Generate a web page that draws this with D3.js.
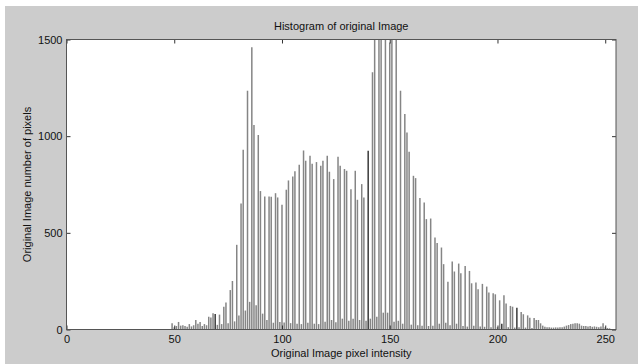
<!DOCTYPE html>
<html>
<head>
<meta charset="utf-8">
<script src="https://cdn.jsdelivr.net/npm/d3@7"></script>
<style>
  body { margin: 0; background: #fff; }
  svg { display: block; font-family: "Liberation Sans", Arial, sans-serif; }
</style>
</head>
<body>
<svg id="chart" width="638" height="364"></svg>
<script>
// pixel counts per intensity value 0..255
const counts = [
  0, 0, 0, 0, 0, 0, 0, 0, 0, 0, 0, 0, 0, 0, 0, 0,
  0, 0, 0, 0, 0, 0, 0, 0, 0, 0, 0, 0, 0, 0, 0, 0,
  0, 0, 0, 0, 0, 0, 0, 0, 0, 0, 0, 0, 0, 0, 0, 0,
  0, 32, 12, 18, 39, 20, 22, 18, 14, 28, 16, 22, 49, 30, 39, 18,
  28, 22, 66, 62, 84, 80, 24, 77, 28, 118, 140, 32, 204, 251, 42, 438,
  72, 652, 930, 98, 1235, 143, 1460, 1058, 125, 1006, 716, 82, 688, 49, 688, 686,
  35, 705, 683, 39, 645, 36, 723, 771, 33, 792, 818, 30, 852, 28, 926, 873,
  35, 899, 857, 30, 866, 28, 847, 873, 40, 899, 816, 49, 778, 38, 894, 847,
  56, 830, 821, 45, 726, 56, 821, 671, 49, 752, 683, 45, 925, 56, 1331, 1900,
  66, 2100, 2300, 87, 2200, 87, 1485, 2000, 40, 1800, 45, 1235, 30, 1115, 1019, 919,
  25, 795, 783, 22, 680, 20, 657, 571, 18, 574, 20, 476, 447, 30, 424, 338,
  35, 247, 22, 352, 300, 30, 341, 291, 18, 329, 15, 303, 239, 20, 243, 208,
  15, 236, 14, 222, 191, 12, 187, 182, 12, 151, 30, 177, 134, 12, 122, 118,
  10, 113, 12, 91, 79, 10, 73, 61, 8, 60, 49, 49, 32, 20, 14, 11,
  11, 10, 10, 11, 10, 11, 12, 15, 20, 23, 28, 30, 32, 32, 30, 20,
  18, 18, 15, 18, 14, 16, 14, 12, 15, 32, 11, 8, 6, 0, 0, 0
];
const darkBins = [69, 140, 202, 209];
const xTicks = [0, 50, 100, 150, 200, 250];
const yTicks = [0, 500, 1000, 1500];

const svg = d3.select("#chart");
const W = 638, H = 364;
const pl = 66.5, pr = 616, pt = 39.5, pb = 329.5;

// figure background
svg.append("rect").attr("x", 5).attr("y", 6).attr("width", W - 5).attr("height", H - 6).attr("fill", "#cccccc");
svg.append("rect").attr("x", pl).attr("y", pt).attr("width", pr - pl).attr("height", pb - pt).attr("fill", "#fff");

const x = d3.scaleLinear().domain([0, 255]).range([pl, pr]);
const y = d3.scaleLinear().domain([0, 1500]).range([pb, pt]).clamp(true);

// stems
svg.append("g")
  .selectAll("line")
  .data(counts.map((c, i) => ({ bin: i, c: c })).filter(d => d.c > 0))
  .enter()
  .append("line")
  .attr("x1", d => x(d.bin))
  .attr("x2", d => x(d.bin))
  .attr("y1", y(0))
  .attr("y2", d => y(d.c))
  .attr("stroke", d => darkBins.includes(d.bin) ? "#3a3a3a" : "#858585")
  .attr("stroke-width", 1.5);

function styleAxis(g) {
  g.select(".domain").remove();
  g.selectAll(".tick line").attr("stroke", "#333");
  g.selectAll(".tick text").attr("fill", "#111").style("font-size", "11px");
}

svg.append("g").attr("transform", "translate(0," + pb + ")")
  .call(d3.axisBottom(x).tickValues(xTicks).tickSize(-4).tickPadding(6).tickFormat(d3.format("d")))
  .call(styleAxis);
svg.append("g").attr("transform", "translate(0," + pt + ")")
  .call(d3.axisTop(x).tickValues(xTicks).tickSize(-4).tickFormat(""))
  .call(styleAxis);
svg.append("g").attr("transform", "translate(" + pl + ",0)")
  .call(d3.axisLeft(y).tickValues(yTicks).tickSize(-4).tickPadding(4).tickFormat(d3.format("d")))
  .call(styleAxis);
svg.append("g").attr("transform", "translate(" + pr + ",0)")
  .call(d3.axisRight(y).tickValues(yTicks).tickSize(-4).tickFormat(""))
  .call(styleAxis);

// box
svg.append("rect").attr("x", pl).attr("y", pt).attr("width", pr - pl).attr("height", pb - pt)
  .attr("fill", "none").attr("stroke", "#555").attr("stroke-width", 1);

svg.append("text").attr("x", (pl + pr) / 2).attr("y", 30).attr("text-anchor", "middle")
  .style("font-size", "11px").attr("fill", "#111").text("Histogram of original Image");
svg.append("text").attr("x", (pl + pr) / 2).attr("y", 357).attr("text-anchor", "middle")
  .style("font-size", "11px").attr("fill", "#111").text("Original Image pixel intensity");
svg.append("text").attr("transform", "translate(31," + ((pt + pb) / 2) + ") rotate(-90)")
  .attr("text-anchor", "middle").style("font-size", "11px").attr("fill", "#111")
  .text("Original Image number of pixels");
</script>
</body>
</html>
